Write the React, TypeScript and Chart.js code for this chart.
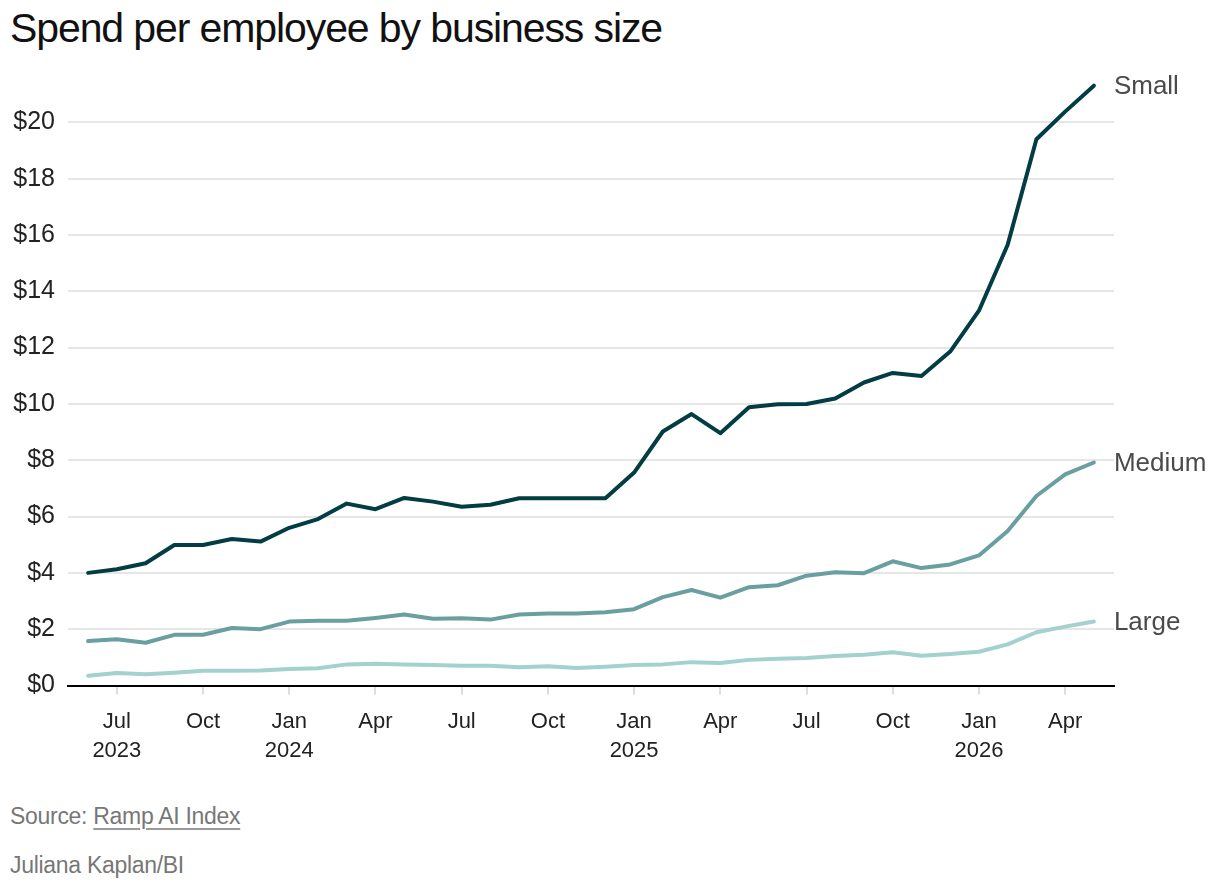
import React, { useEffect, useRef } from "react";
import { Chart, registerables } from "chart.js";

Chart.register(...registerables);

const months = [
  "2023-06", "2023-07", "2023-08", "2023-09", "2023-10", "2023-11", "2023-12",
  "2024-01", "2024-02", "2024-03", "2024-04", "2024-05", "2024-06", "2024-07",
  "2024-08", "2024-09", "2024-10", "2024-11", "2024-12", "2025-01", "2025-02",
  "2025-03", "2025-04", "2025-05", "2025-06", "2025-07", "2025-08", "2025-09",
  "2025-10", "2025-11", "2025-12", "2026-01", "2026-02", "2026-03", "2026-04",
  "2026-05",
];

const small = [
  4.0, 4.13, 4.34, 4.99, 4.99, 5.2, 5.11, 5.6, 5.91, 6.46, 6.26, 6.66, 6.53,
  6.35, 6.42, 6.65, 6.65, 6.65, 6.65, 7.56, 9.02, 9.64, 8.96, 9.88, 9.99, 10.0,
  10.19, 10.76, 11.1, 10.99, 11.86, 13.31, 15.65, 19.4, 20.38, 21.3,
];

const medium = [
  1.58, 1.64, 1.52, 1.8, 1.8, 2.04, 2.0, 2.27, 2.3, 2.3, 2.4, 2.52, 2.37, 2.39,
  2.34, 2.52, 2.56, 2.56, 2.6, 2.71, 3.14, 3.39, 3.12, 3.49, 3.56, 3.9, 4.02,
  3.99, 4.41, 4.17, 4.3, 4.62, 5.49, 6.73, 7.5, 7.92,
];

const large = [
  0.35, 0.44, 0.4, 0.45, 0.52, 0.52, 0.53, 0.59, 0.61, 0.75, 0.77, 0.75, 0.73,
  0.7, 0.7, 0.65, 0.68, 0.62, 0.67, 0.73, 0.75, 0.83, 0.8, 0.91, 0.95, 0.98,
  1.05, 1.09, 1.18, 1.06, 1.12, 1.2, 1.46, 1.89, 2.09, 2.27,
];

const seriesNames = ["Small", "Medium", "Large"];
const seriesColors = ["#013d42", "#6a9fa1", "#a3d1ce"];

const xTickMonths = [
  "2023-07", "2023-10", "2024-01", "2024-04", "2024-07", "2024-10",
  "2025-01", "2025-04", "2025-07", "2025-10", "2026-01", "2026-04",
];
const xTickLabels: (string | string[])[] = [
  ["Jul", "2023"], "Oct", ["Jan", "2024"], "Apr", "Jul", "Oct",
  ["Jan", "2025"], "Apr", "Jul", "Oct", ["Jan", "2026"], "Apr",
];

const yTickValues = [0, 2, 4, 6, 8, 10, 12, 14, 16, 18, 20];

const FONT = "'Liberation Sans', Arial, sans-serif";

const endLabels = {
  id: "endLabels",
  afterDatasetsDraw(chart: any) {
    const ctx = chart.ctx;
    ctx.save();
    ctx.font = `26px ${FONT}`;
    ctx.fillStyle = "#4a4a4a";
    ctx.textAlign = "left";
    ctx.textBaseline = "middle";
    chart.data.datasets.forEach((ds: any, i: number) => {
      const meta = chart.getDatasetMeta(i);
      const pt = meta.data[meta.data.length - 1];
      if (pt) ctx.fillText(ds.label, pt.x + 20, pt.y + 1);
    });
    ctx.restore();
  },
};

export default function App() {
  const ref = useRef<HTMLCanvasElement>(null);

  useEffect(() => {
    if (!ref.current) return;
    const series = [small, medium, large];
    const tickIdx = xTickMonths.map((m) => months.indexOf(m));
    const chart = new Chart(ref.current, {
      type: "line",
      data: {
        datasets: series.map((vals, s) => ({
          label: seriesNames[s],
          data: vals.map((v, i) => ({ x: i, y: v })),
          borderColor: seriesColors[s],
          backgroundColor: seriesColors[s],
          borderWidth: 4,
          pointRadius: 0,
          tension: 0,
          borderCapStyle: "round",
          borderJoinStyle: "round",
          clip: false,
        })).reverse(),
      },
      options: {
        responsive: false,
        animation: false,
        layout: {
          autoPadding: false,
          padding: { left: 0, right: 106, top: 6, bottom: 0 },
        },
        plugins: {
          legend: { display: false },
          tooltip: { enabled: false },
        },
        scales: {
          x: {
            type: "linear",
            min: -0.7,
            max: 35.7,
            afterBuildTicks: (scale: any) => {
              scale.ticks = tickIdx.map((v) => ({ value: v }));
            },
            afterFit: (scale: any) => {
              scale.height = 94.5;
              scale.paddingLeft = 0;
              scale.paddingRight = 0;
            },
            ticks: {
              autoSkip: false,
              maxRotation: 0,
              padding: 13,
              color: "#222",
              font: { family: FONT, size: 22, lineHeight: 1.33 },
              callback: (value: any) => {
                const k = tickIdx.indexOf(Number(value));
                return k >= 0 ? xTickLabels[k] : "";
              },
            },
            grid: {
              display: true,
              drawOnChartArea: false,
              drawTicks: true,
              tickLength: 9,
              color: "#dddddd",
              lineWidth: 2,
            },
            border: { display: true, color: "#000", width: 2 },
          },
          y: {
            type: "linear",
            min: 0,
            max: 22,
            afterBuildTicks: (scale: any) => {
              scale.ticks = yTickValues.map((v) => ({ value: v }));
            },
            afterFit: (scale: any) => {
              scale.width = 68;
              scale.paddingTop = 0;
              scale.paddingBottom = 0;
            },
            ticks: {
              padding: 13,
              color: "#222",
              font: { family: FONT, size: 25 },
              callback: (v: any) => "$" + v,
            },
            grid: {
              drawTicks: false,
              color: "#e6e6e6",
              lineWidth: 2,
            },
            border: { display: false },
          },
        },
      },
      plugins: [endLabels],
    } as any);
    return () => chart.destroy();
  }, []);

  return (
    <div
      style={{
        position: "absolute",
        left: 0,
        top: 0,
        width: 1220,
        height: 890,
        background: "#fff",
        fontFamily: FONT,
      }}
    >
      <div
        style={{
          position: "absolute",
          left: 10,
          top: 3,
          fontSize: 41,
          letterSpacing: "-1.1px",
          color: "#111",
          whiteSpace: "nowrap",
          lineHeight: "50px",
        }}
      >
        Spend per employee by business size
      </div>
      <canvas
        ref={ref}
        width={1220}
        height={720}
        style={{ position: "absolute", left: 0, top: 60, width: 1220, height: 720 }}
      />
      <div
        style={{
          position: "absolute",
          left: 10,
          top: 801,
          fontSize: 23,
          color: "#777",
          lineHeight: "30px",
          whiteSpace: "nowrap",
          letterSpacing: "-0.3px",
        }}
      >
        Source: <span style={{ textDecoration: "underline", textUnderlineOffset: "4px", textDecorationThickness: "2px", textDecorationColor: "#999" }}>Ramp AI Index</span>
      </div>
      <div
        style={{
          position: "absolute",
          left: 10,
          top: 850,
          fontSize: 23,
          color: "#777",
          lineHeight: "30px",
          whiteSpace: "nowrap",
          letterSpacing: "-0.3px",
        }}
      >
        Juliana Kaplan/BI
      </div>
    </div>
  );
}
